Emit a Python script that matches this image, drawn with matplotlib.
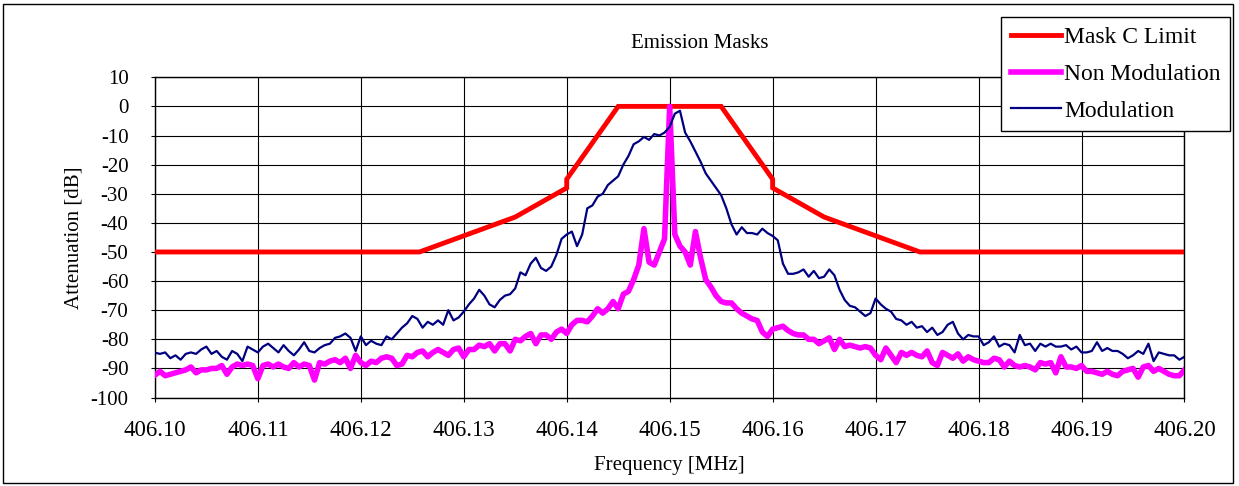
import numpy as np
import matplotlib
matplotlib.use('Agg')
import matplotlib.pyplot as plt
from matplotlib.patches import Rectangle

plt.rcParams['font.family'] = ['Liberation Serif', 'DejaVu Serif']
plt.rcParams['axes.unicode_minus'] = False

# Mask C limit (corner points)
mask_freq = [406.100, 406.1257, 406.135, 406.140, 406.140, 406.145,
             406.155, 406.160, 406.160, 406.165, 406.1743, 406.200]
mask_db = [-50, -50, -38, -28, -25, 0, 0, -25, -28, -38, -50, -50]

# measured spectra, read every 0.5 kHz from 406.100 to 406.200 MHz
freq = np.linspace(406.10, 406.20, 201)

non_mod = [
    -92.3, -91, -92.5, -92, -91.5, -91, -90.5, -89.5, -91.5, -90.5,
    -90.5, -90, -90, -89, -92, -89.5, -88.5, -89, -88.5, -89,
    -93.5, -89, -88.5, -89.5, -88.5, -89.5, -90, -88, -89.5, -88.5,
    -89, -94, -88, -88.5, -87.5, -87, -88, -86.5, -90, -85.5,
    -88, -89, -87.5, -88, -86.5, -86, -86.5, -89, -88.5, -85.5,
    -86, -84.5, -84, -86, -84.5, -83.5, -84.5, -85.5, -83.5, -83,
    -86, -83.5, -83.5, -82, -82.5, -81.5, -84, -81.5, -81.5, -84,
    -80, -80.5, -79, -78, -81.5, -78.5, -78.5, -80, -77.5, -76.5,
    -78, -75, -73.5, -73.5, -74, -72, -69.5, -71, -69.5, -67,
    -69.5, -64.5, -63.5, -59.5, -54.5, -42, -53.5, -54.5, -50, -45.5,
    0, -44, -48, -50, -54.5, -43, -52, -59.5, -62, -65,
    -67, -67.5, -67.5, -69.5, -71, -72, -73, -73.5, -77.5, -79,
    -76.5, -76, -75.5, -77, -78, -78.5, -78.5, -80, -80, -81.5,
    -80.5, -79.5, -83.5, -80, -82.5, -82, -82.5, -83, -82.5, -83,
    -85.5, -87, -83, -85.5, -88, -84.5, -85.5, -84.5, -85.5, -86,
    -84, -88, -89, -84.5, -85.5, -86.5, -85, -87.5, -86, -87,
    -87.5, -88, -88, -86.5, -87, -89.5, -87.5, -89, -89.5, -89,
    -89.5, -90.5, -88, -88.5, -88, -91.5, -86, -89.5, -89.5, -90,
    -89, -91, -91, -91.5, -92, -91, -92, -92.5, -91, -90.5,
    -90, -93, -89.5, -89, -91, -90, -91, -92, -92.5, -92.5, -90.5,
]

modulation = [
    -84.6, -85, -84.5, -86.5, -85.5, -87, -85, -84.5, -85, -83.5,
    -82.5, -85, -84, -86, -87, -84, -85, -87.5, -82.5, -83.5,
    -84.5, -82.5, -81.5, -83, -84.5, -82, -84, -85.5, -83.5, -81,
    -84, -84.5, -83, -82, -81.5, -79.5, -79, -78, -79.5, -84,
    -79, -82, -80.5, -81.5, -82, -79, -80, -78, -76, -74.5,
    -72, -73, -76, -74, -75, -73.5, -75, -70, -73.5, -72.5,
    -70.5, -68, -66, -63, -65, -68, -69, -66.5, -65, -64.5,
    -62.5, -57, -58, -54, -52, -55.5, -56.5, -55, -51, -45.5,
    -44, -43, -48, -44, -35, -34, -31, -30, -27, -25.5,
    -24, -20, -17, -13, -12, -10.5, -11.5, -9.5, -10, -9,
    -7, -2.5, -1.5, -9, -12, -15.5, -19, -23, -25.5, -28,
    -30.5, -35, -40.5, -44, -41.5, -43.5, -43.5, -44, -42, -43.5,
    -44.5, -46, -54, -57.5, -57.5, -57, -56, -58.5, -56.5, -59,
    -58.5, -56, -58, -63, -66.5, -68.5, -69, -70.5, -72, -71,
    -66, -68, -69.5, -70.5, -73, -73.5, -75, -74, -76, -75.5,
    -77.5, -76, -78.5, -77.5, -75, -74, -78, -80, -78.5, -79,
    -79, -82, -81, -79, -82.5, -81.5, -82, -84.5, -78.5, -82,
    -81.5, -84, -81.5, -82.5, -81.5, -82.5, -82.5, -82, -83.5, -82.5,
    -84.5, -84.5, -84, -81, -84, -83, -84, -84, -85, -86.5,
    -85.5, -84, -85, -81.5, -87.5, -84.5, -85, -85.5, -85.5, -87, -86,
]

xticks = np.round(np.arange(406.10, 406.2001, 0.01), 2)
yticks = np.arange(-100, 11, 10)

fig = plt.figure(figsize=(12.39, 4.86), dpi=100)
ax = fig.add_axes([0.125, 0.182, 0.831, 0.659])

ax.plot(mask_freq, mask_db, color='#FF0000', lw=3.5, label='Mask C Limit',
        solid_joinstyle='miter', zorder=3)
ax.plot(freq, non_mod, color='#FF00FF', lw=4, label='Non Modulation', zorder=4)
ax.plot(freq, modulation, color='#000080', lw=1.6, label='Modulation', zorder=5)

ax.set_xlim(406.10, 406.20)
ax.set_ylim(-100, 10)
ax.set_xticks(xticks)
ax.set_xticklabels([f'{t:.2f}' for t in xticks])
ax.set_yticks(yticks)
ax.grid(True, color='black', lw=0.8)
ax.set_axisbelow(True)
ax.tick_params(length=3, width=0.8)
ax.tick_params(axis='y', labelsize=15, pad=16)
ax.tick_params(axis='x', labelsize=16.5, pad=13)
for s in ax.spines.values():
    s.set_linewidth(1.0)

ax.set_xlabel('Frequency [MHz]', fontsize=15, labelpad=11)
ax.set_ylabel('Attenuation [dB]', fontsize=15, labelpad=5)
fig.text(700 / 1239, 1 - 43 / 486, 'Emission Masks', fontsize=15,
         ha='center', va='center')

leg = fig.legend(loc='upper right', bbox_to_anchor=(1230 / 1239, 1 - 17 / 486),
                 fontsize=17, frameon=True, fancybox=False, framealpha=1,
                 edgecolor='black', borderaxespad=0, handlelength=2.1,
                 handletextpad=0.15, labelspacing=0.65, borderpad=0.4)
leg.get_frame().set_linewidth(1.0)

# outer chart border
fig.patches.append(Rectangle((3 / 1239, 3 / 486), 1230 / 1239, 479 / 486,
                             transform=fig.transFigure, fill=False,
                             edgecolor='black', lw=1.0))

fig.savefig('out.png', dpi=100)
